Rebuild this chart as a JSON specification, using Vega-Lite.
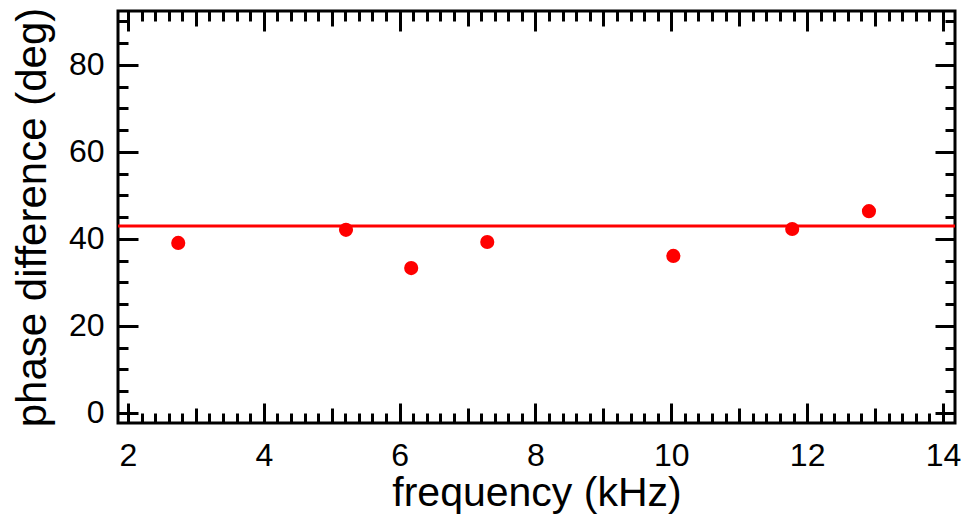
{
  "$schema": "https://vega.github.io/schema/vega-lite/v6.json",
  "autosize": {"type": "none"},
  "padding": {"left": 118, "top": 11, "right": 19, "bottom": 92},
  "width": 837,
  "height": 412,
  "background": "white",
  "datasets": {
    "pts": [
      {"frequency": 2.74, "phase": 39.1},
      {"frequency": 5.21, "phase": 42.1},
      {"frequency": 6.17, "phase": 33.3},
      {"frequency": 7.29, "phase": 39.3},
      {"frequency": 10.03, "phase": 36.1},
      {"frequency": 11.78, "phase": 42.3},
      {"frequency": 12.91, "phase": 46.4}
    ],
    "fit": [{"level": 43.0}]
  },
  "config": {
    "view": {"stroke": "black", "strokeWidth": 3},
    "axis": {
      "domain": false,
      "grid": false,
      "tickColor": "black",
      "tickWidth": 3,
      "labelFont": "Liberation Sans",
      "labelFontSize": 32,
      "labelColor": "black",
      "labelFlush": false,
      "labelOverlap": false,
      "titleFont": "Liberation Sans",
      "titleFontSize": 42,
      "titleFontWeight": "normal",
      "titleColor": "black"
    }
  },
  "resolve": {"axis": {"x": "independent", "y": "independent"}},
  "layer": [
    {
      "data": {"name": "pts"},
      "mark": {"type": "point", "filled": true, "color": "#ff0000", "opacity": 1, "size": 200},
      "encoding": {
        "x": {"field": "frequency", "type": "quantitative",
              "scale": {"domain": [1.853, 14.177], "nice": false, "zero": false},
              "axis": {"orient": "bottom", "values": [2, 4, 6, 8, 10, 12, 14], "tickSize": -20, "labelPadding": 37, "title": "frequency (kHz)", "titleFontSize": 41, "titlePadding": 2}},
        "y": {"field": "phase", "type": "quantitative",
              "scale": {"domain": [-2.3, 92.4], "nice": false, "zero": false},
              "axis": {"orient": "left", "values": [0, 20, 40, 60, 80], "tickSize": -20, "labelPadding": 34, "title": "phase difference (deg)", "titlePadding": 14}}
      }
    },
    {
      "data": {"name": "fit"},
      "mark": {"type": "rule", "color": "#ff0000", "strokeWidth": 3},
      "encoding": {
        "y": {"field": "level", "type": "quantitative",
              "scale": {"domain": [-2.3, 92.4], "nice": false, "zero": false},
              "axis": null}
      }
    },
    {
      "data": {"name": "pts"},
      "mark": {"type": "point", "opacity": 0},
      "encoding": {
        "x": {"field": "frequency", "type": "quantitative",
              "scale": {"domain": [1.853, 14.177], "nice": false, "zero": false},
              "axis": {"orient": "top", "values": [2, 4, 6, 8, 10, 12, 14], "tickSize": -20, "labels": false, "title": null}},
        "y": {"field": "phase", "type": "quantitative",
              "scale": {"domain": [-2.3, 92.4], "nice": false, "zero": false},
              "axis": {"orient": "right", "values": [0, 20, 40, 60, 80], "tickSize": -20, "labels": false, "title": null}}
      }
    },
    {
      "data": {"name": "pts"},
      "mark": {"type": "point", "opacity": 0},
      "encoding": {
        "x": {"field": "frequency", "type": "quantitative",
              "scale": {"domain": [1.853, 14.177], "nice": false, "zero": false},
              "axis": {"orient": "bottom", "values": [3, 5, 7, 9, 11, 13], "tickSize": -15, "labels": false, "title": null}},
        "y": {"field": "phase", "type": "quantitative",
              "scale": {"domain": [-2.3, 92.4], "nice": false, "zero": false},
              "axis": {"orient": "left", "values": [5, 10, 15, 25, 30, 35, 45, 50, 55, 65, 70, 75, 85, 90], "tickSize": -10, "labels": false, "title": null}}
      }
    },
    {
      "data": {"name": "pts"},
      "mark": {"type": "point", "opacity": 0},
      "encoding": {
        "x": {"field": "frequency", "type": "quantitative",
              "scale": {"domain": [1.853, 14.177], "nice": false, "zero": false},
              "axis": {"orient": "top", "values": [3, 5, 7, 9, 11, 13], "tickSize": -15, "labels": false, "title": null}},
        "y": {"field": "phase", "type": "quantitative",
              "scale": {"domain": [-2.3, 92.4], "nice": false, "zero": false},
              "axis": {"orient": "right", "values": [5, 10, 15, 25, 30, 35, 45, 50, 55, 65, 70, 75, 85, 90], "tickSize": -10, "labels": false, "title": null}}
      }
    },
    {
      "data": {"name": "pts"},
      "mark": {"type": "point", "opacity": 0},
      "encoding": {
        "x": {"field": "frequency", "type": "quantitative",
              "scale": {"domain": [1.853, 14.177], "nice": false, "zero": false},
              "axis": {"orient": "bottom", "values": [2.2, 2.4, 2.6, 2.8, 3.2, 3.4, 3.6, 3.8, 4.2, 4.4, 4.6, 4.8, 5.2, 5.4, 5.6, 5.8, 6.2, 6.4, 6.6, 6.8, 7.2, 7.4, 7.6, 7.8, 8.2, 8.4, 8.6, 8.8, 9.2, 9.4, 9.6, 9.8, 10.2, 10.4, 10.6, 10.8, 11.2, 11.4, 11.6, 11.8, 12.2, 12.4, 12.6, 12.8, 13.2, 13.4, 13.6, 13.8], "tickSize": -10, "labels": false, "title": null}},
        "y": {"field": "phase", "type": "quantitative",
              "scale": {"domain": [-2.3, 92.4], "nice": false, "zero": false},
              "axis": null}
      }
    },
    {
      "data": {"name": "pts"},
      "mark": {"type": "point", "opacity": 0},
      "encoding": {
        "x": {"field": "frequency", "type": "quantitative",
              "scale": {"domain": [1.853, 14.177], "nice": false, "zero": false},
              "axis": {"orient": "top", "values": [2.2, 2.4, 2.6, 2.8, 3.2, 3.4, 3.6, 3.8, 4.2, 4.4, 4.6, 4.8, 5.2, 5.4, 5.6, 5.8, 6.2, 6.4, 6.6, 6.8, 7.2, 7.4, 7.6, 7.8, 8.2, 8.4, 8.6, 8.8, 9.2, 9.4, 9.6, 9.8, 10.2, 10.4, 10.6, 10.8, 11.2, 11.4, 11.6, 11.8, 12.2, 12.4, 12.6, 12.8, 13.2, 13.4, 13.6, 13.8], "tickSize": -10, "labels": false, "title": null}},
        "y": {"field": "phase", "type": "quantitative",
              "scale": {"domain": [-2.3, 92.4], "nice": false, "zero": false},
              "axis": null}
      }
    }
  ]
}
